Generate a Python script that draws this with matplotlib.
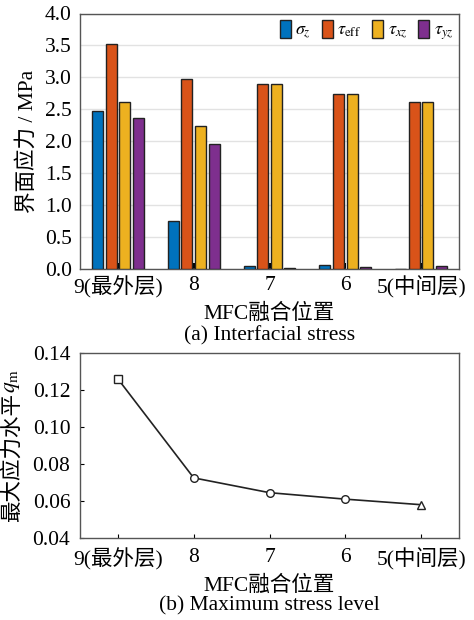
import numpy as np
import matplotlib.pyplot as plt
from matplotlib.patches import Patch

plt.rcParams['font.family'] = ['Liberation Serif', 'Noto Sans CJK SC']
plt.rcParams['mathtext.fontset'] = 'stix'

positions = ['9(最外层)', '8', '7', '6', '5(中间层)']
sigma_z = [2.47, 0.75, 0.05, 0.06, 0.005]
tau_eff = [3.52, 2.97, 2.90, 2.74, 2.61]
tau_xz = [2.61, 2.24, 2.90, 2.74, 2.61]
tau_yz = [2.36, 1.95, 0.01, 0.03, 0.05]
series_names = [r'$\sigma_z$', r'$\tau_{\mathrm{eff}}$', r'$\tau_{xz}$', r'$\tau_{yz}$']
colors = ['#0072BD', '#D95319', '#EDB120', '#7E2F8E']

q_m = [0.126, 0.0725, 0.0645, 0.061, 0.058]
markers = ['s', 'o', 'o', 'o', '^']

fs = 15.5
fig = plt.figure(figsize=(4.74, 6.2), dpi=100)

# (a) interfacial stress
ax1 = fig.add_axes([80 / 474, 1 - 269 / 620, 379 / 474, 255.5 / 620])
x = np.arange(len(positions))
step = 0.18
width = 0.145
for i, vals in enumerate([sigma_z, tau_eff, tau_xz, tau_yz]):
    ax1.bar(x + (i - 1.5) * step, vals, width, color=colors[i],
            edgecolor='#222222', linewidth=1.0, zorder=3)
ax1.set_xlim(-0.5, 4.5)
ax1.set_ylim(0, 4.0)
ax1.set_yticks(np.arange(0, 4.01, 0.5))
ax1.set_yticklabels([f'{v:.1f}' for v in np.arange(0, 4.01, 0.5)])
ax1.set_xticks(x)
ax1.set_xticklabels(positions)
ax1.grid(axis='y', color='#e2e2e2', linewidth=1.0, zorder=0)
ax1.tick_params(axis='x', direction='in', length=4, width=1.5, labelsize=fs, pad=5)
ax1.tick_params(axis='y', direction='in', length=0, labelsize=fs, pad=6)
for s in ax1.spines.values():
    s.set_color('#555555')
    s.set_linewidth(1.0)
ax1.set_ylabel('界面应力 / MPa', fontsize=fs, labelpad=5)
ax1.set_xlabel('MFC融合位置', fontsize=fs, labelpad=4)
handles = [Patch(facecolor=c, edgecolor='#222222') for c in colors]
ax1.legend(handles, series_names, loc='center right', ncol=4, frameon=False,
           bbox_to_anchor=(0.985, 0.93), fontsize=13, handlelength=0.6,
           handleheight=1.1, handletextpad=0.25, columnspacing=0.6,
           borderaxespad=0, borderpad=0)
fig.text(0.5 * (80 + 459) / 474, 1 - 336 / 620, '(a) Interfacial stress',
         ha='center', va='center', fontsize=fs)

# (b) maximum stress level
ax2 = fig.add_axes([80 / 474, 1 - 538 / 620, 379 / 474, 185 / 620])
ax2.plot(x, q_m, color='#222222', linewidth=1.2, zorder=2)
for xi, yi, m in zip(x, q_m, markers):
    ax2.plot(xi, yi, marker=m, markersize=5.5, markerfacecolor='white',
             markeredgecolor='#222222', markeredgewidth=1.0, zorder=3)
ax2.set_xlim(-0.5, 4.5)
ax2.set_ylim(0.04, 0.14)
ax2.set_yticks([0.04, 0.06, 0.08, 0.10, 0.12, 0.14])
ax2.set_yticklabels(['0.04', '0.06', '0.08', '0.10', '0.12', '0.14'])
ax2.set_xticks(x)
ax2.set_xticklabels(positions)
ax2.tick_params(direction='in', length=3, labelsize=fs, pad=7)
for s in ax2.spines.values():
    s.set_color('#555555')
    s.set_linewidth(1.0)
ax2.set_xlabel('MFC融合位置', fontsize=fs, labelpad=4)
# y label: CJK part and math part drawn separately so both fonts work
fig.text(12 / 474, 1 - 457 / 620, '最大应力水平', rotation=90,
         ha='center', va='center', fontsize=fs)
fig.text(13 / 474, 1 - 381 / 620, r'$q_\mathrm{m}$', rotation=90,
         ha='center', va='center', fontsize=fs)
fig.text(0.5 * (80 + 459) / 474, 1 - 606 / 620, '(b) Maximum stress level',
         ha='center', va='center', fontsize=fs)

fig.savefig('out.png', dpi=100)
